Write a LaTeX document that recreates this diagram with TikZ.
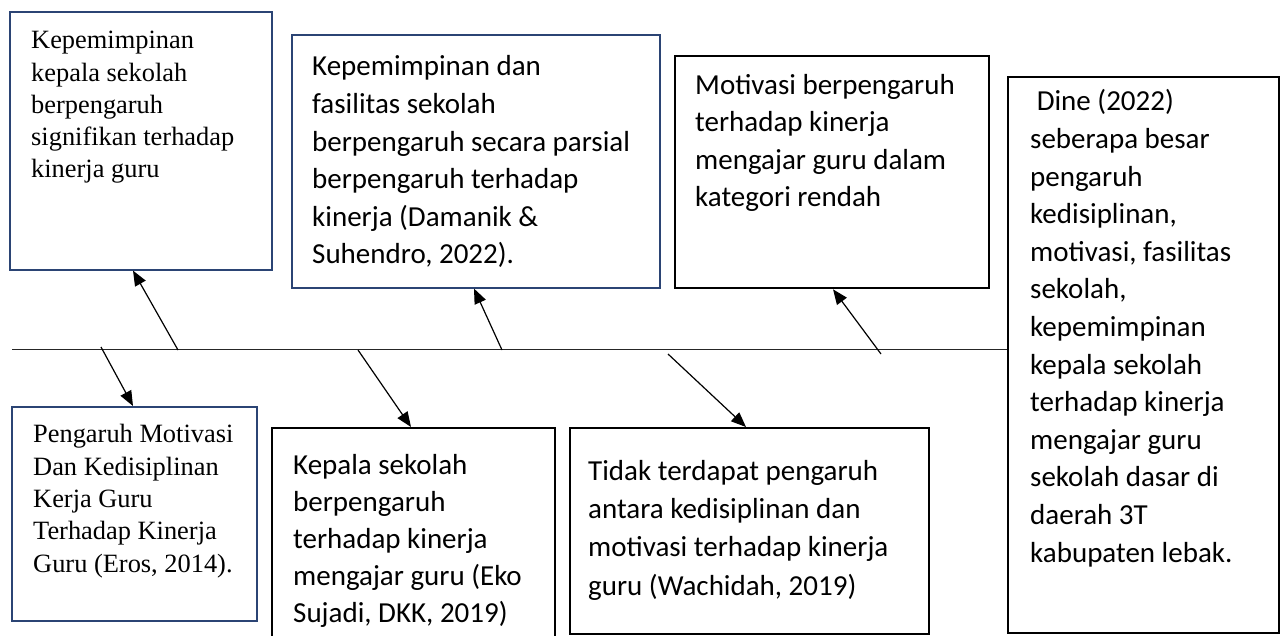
\documentclass[tikz,border=0pt]{standalone}
\usepackage{fontspec}
\newfontfamily\serifR{Liberation Serif}
\newfontfamily\sansC{Carlito}
\usetikzlibrary{arrows.meta}
\definecolor{navy}{HTML}{2B4474}
\begin{document}
\begin{tikzpicture}[x=1pt,y=-1pt,
  navybox/.style={draw=navy,line width=1.6pt,inner sep=0pt,anchor=north west,fill=white},
  blackbox/.style={draw=black,line width=2.3pt,inner sep=0pt,anchor=north west,fill=white},
  sertext/.style={font=\serifR\fontsize{26.4}{32.3}\selectfont,align=left,inner sep=0pt,anchor=base west},
  santext/.style={font=\sansC\fontsize{29}{37.6}\selectfont,align=left,inner sep=0pt,anchor=base west},
  spine/.style={line width=1.2pt,draw=black!85},
  arr/.style={line width=1.2pt,-{Triangle[length=15pt,width=12pt]}}
]
\useasboundingbox (0,0) rectangle (1280,636);
\clip (0,0) rectangle (1280,636);
\fill[white] (0,0) rectangle (1280,636);

% boxes
\node[navybox,minimum width=262pt,minimum height=258pt] (b1) at (9,11) {};
\node[navybox,minimum width=368pt,minimum height=253pt] (b2) at (291,34) {};
\node[blackbox,minimum width=314pt,minimum height=232pt] (b3) at (674,55) {};
\node[blackbox,minimum width=271pt,minimum height=556pt] (b4) at (1007,76) {};
\node[navybox,minimum width=245pt,minimum height=214pt] (b5) at (11,406) {};
\node[blackbox,minimum width=283pt,minimum height=223pt] (b6) at (271,427) {};
\node[blackbox,minimum width=359pt,minimum height=206pt] (b7) at (569,427) {};

% texts (anchored at the baseline of their last line)
\node[sertext] (t1) at (31,178) {Kepemimpinan\\kepala sekolah\\berpengaruh\\signifikan terhadap\\kinerja guru};
\node[santext] (t2) at (312,264) {Kepemimpinan dan\\fasilitas sekolah\\berpengaruh secara parsial\\berpengaruh terhadap\\kinerja (Damanik \&\\Suhendro, 2022).};
\node[santext] (t3) at (695,207) {Motivasi berpengaruh\\terhadap kinerja\\mengajar guru dalam\\kategori rendah};
\node[santext] (t4) at (1030,562) {~Dine (2022)\\seberapa besar\\pengaruh\\kedisiplinan,\\motivasi, fasilitas\\sekolah,\\kepemimpinan\\kepala sekolah\\terhadap kinerja\\mengajar guru\\sekolah dasar di\\daerah 3T\\kabupaten lebak.};
\node[sertext] (t5) at (33,572) {Pengaruh Motivasi\\Dan Kedisiplinan\\Kerja Guru\\Terhadap Kinerja\\Guru (Eros, 2014).};
\node[santext,font=\sansC\fontsize{29}{36.8}\selectfont] (t6) at (293,622) {Kepala sekolah\\berpengaruh\\terhadap kinerja\\mengajar guru (Eko\\Sujadi, DKK, 2019)};
\node[santext,font=\sansC\fontsize{29}{38.3}\selectfont] (t7) at (588,595) {Tidak terdapat pengaruh\\antara kedisiplinan dan\\motivasi terhadap kinerja\\guru (Wachidah, 2019)};

% spine
\coordinate (sp0) at (12,349.5);
\draw[spine] (sp0) -- (sp0 -| b4.west);

% arrows
\coordinate (s1) at (178,350);
\coordinate (s2) at (101,347);
\coordinate (s3) at (502,350);
\coordinate (s4) at (358,350);
\coordinate (s5) at (881,354);
\coordinate (s6) at (668,354);
\draw[arr] (s1) -- (133,0 |- b1.south);
\draw[arr] (s2) -- (133,0 |- b5.north);
\draw[arr] (s3) -- (474,0 |- b2.south);
\draw[arr] (s4) -- (411,0 |- b6.north);
\draw[arr] (s5) -- (833,0 |- b3.south);
\draw[arr] (s6) -- (746,0 |- b7.north);
\end{tikzpicture}
\end{document}
